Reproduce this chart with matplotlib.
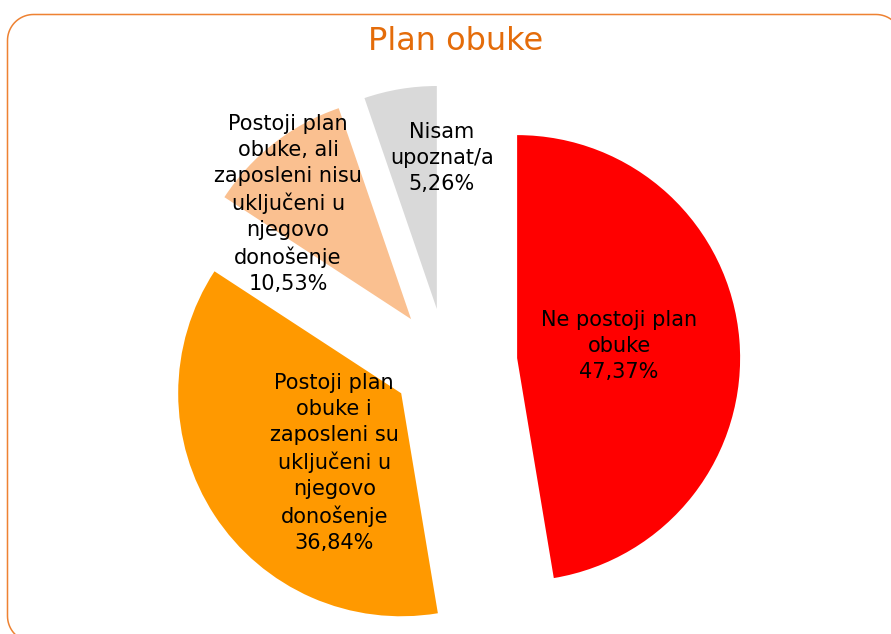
import matplotlib
matplotlib.use("Agg")
import matplotlib.pyplot as plt
import numpy as np

# podaci
labels = [
    "Ne postoji plan\nobuke",
    "Postoji plan\nobuke i\nzaposleni su\nuključeni u\nnjegovo\ndonošenje",
    "Postoji plan\nobuke, ali\nzaposleni nisu\nuključeni u\nnjegovo\ndonošenje",
    "Nisam\nupoznat/a",
]
shares = [47.37, 36.84, 10.53, 5.26]
colors = ["#FF0000", "#FF9900", "#FAC090", "#D9D9D9"]
explode = [0.32, 0.24, 0.255, 0.25]  # udio radijusa

# pomak teksta od vrha isjecka (u pikselima)
label_offsets = [(102, 12), (-67, -70), (-123, 115), (5, 151)]

W, H = 891, 634
R = 223
fig = plt.figure(figsize=(W / 100, H / 100), dpi=100)
ax = fig.add_axes([0, 0, 1, 1])

# ============ pita ============ #
wedges, _ = ax.pie(shares, colors=colors, explode=[e * R for e in explode],
                   startangle=90, counterclock=False, radius=R,
                   center=(446, 270), wedgeprops=dict(linewidth=0))

for w, lab, val, off in zip(wedges, labels, shares, label_offsets):
    txt = lab + "\n" + f"{val:.2f}%".replace(".", ",")
    ax.text(w.center[0] + off[0], w.center[1] + off[1], txt,
            ha="center", va="center", fontsize=15, linespacing=1.37,
            color="black", family="DejaVu Sans")

ax.set_xlim(0, W)
ax.set_ylim(0, H)
ax.set_aspect("equal")
ax.axis("off")

# naslov
ax.text(455.5, H - 50, "Plan obuke", ha="center", va="baseline",
        fontsize=23, color="#E46C0A", family="DejaVu Sans")

# okvir sa zaobljenim uglovima (desni i donji rub izlaze iz slike)
x0, x1, y0, y1, rr = 7.5, 902, -8, 619.5, 26
pts = []
for (cx, cy, a0) in [(x1 - rr, y1 - rr, 0), (x0 + rr, y1 - rr, 90),
                     (x0 + rr, y0 + rr, 180), (x1 - rr, y0 + rr, 270)]:
    t = np.radians(np.linspace(a0, a0 + 90, 20))
    pts.append(np.column_stack([cx + rr * np.cos(t), cy + rr * np.sin(t)]))
pts = np.vstack(pts + [pts[0][:1]])
ax.plot(pts[:, 0], pts[:, 1], color="#EE8232", linewidth=1.1)

fig.savefig("out.png", dpi=100)
